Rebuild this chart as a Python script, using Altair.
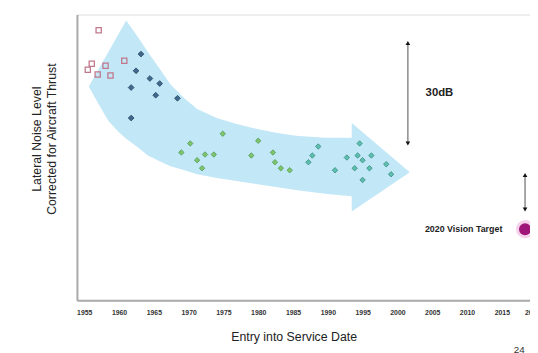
import altair as alt
import pandas as pd

# ---- data (years, relative noise level in dB) ----
sq_year = [1957.07, 1956.08, 1955.51, 1956.93, 1958.06, 1958.77, 1960.75]
sq_level = [80.6, 70.6, 68.8, 67.4, 70.0, 67.1, 71.5]

blue_year = [1963.15, 1962.44, 1964.43, 1965.84, 1961.74, 1965.27, 1968.39, 1961.74]
blue_level = [73.5, 68.5, 66.2, 64.7, 63.5, 61.2, 60.3, 54.4]

green_year = [1974.90, 1970.23, 1968.95, 1972.35, 1973.62, 1971.22, 1971.93,
              1979.99, 1979.00, 1982.11, 1982.40, 1983.25, 1984.52]
green_level = [49.7, 46.8, 44.1, 43.5, 43.5, 41.8, 39.4,
               47.6, 43.2, 44.1, 41.2, 39.4, 38.8]

teal_year = [1988.62, 1987.77, 1987.21, 1991.03, 1992.73, 1994.57, 1994.28,
             1994.99, 1996.26, 1993.86, 1995.98, 1994.99, 1998.39, 1999.09]
teal_level = [45.9, 43.2, 41.2, 38.8, 42.6, 46.8, 43.2,
              41.8, 43.2, 39.4, 39.4, 35.9, 40.6, 37.6]

# trend band (arrow) edges
band_year = [1955.65, 1957.07, 1958.48, 1959.90, 1961.03, 1962.73, 1964.14, 1965.84,
             1967.40, 1969.38, 1971.22, 1974.05, 1976.88, 1979.71, 1982.54, 1985.37,
             1989.61, 1993.43, 1993.44, 2001.78]
band_upper = [63.8, 69.0, 74.2, 79.4, 83.5, 78.5, 74.1, 69.1,
              64.4, 60.3, 57.1, 54.4, 52.6, 51.2, 50.0, 49.1,
              48.5, 48.5, 52.9, 38.2]
band_lower = [63.8, 58.5, 53.5, 50.3, 48.2, 45.6, 43.2, 41.5,
              40.0, 38.8, 37.6, 36.5, 35.6, 34.7, 33.8, 32.9,
              31.8, 31.0, 26.5, 38.2]

# annotation arrows
arrow_year = [2001.50, 2018.34]
arrow_top = [76.8, 37.35]
arrow_bottom = [46.8, 27.06]

target_year = [2018.34]
target_level = [21.2]

tick_years = [1955, 1960, 1965, 1970, 1975, 1980, 1985, 1990, 1995, 2000, 2005, 2010, 2015]

FONT = "Liberation Sans"
xscale = alt.Scale(domain=[1953.95, 2019.05], nice=False, zero=False)
yscale = alt.Scale(domain=[0, 85.3], nice=False, zero=True)

xaxis = alt.Axis(
    values=tick_years, format="d", ticks=False, grid=False,
    labelFontSize=7, labelFontWeight="bold", labelColor="#333", labelFont=FONT,
    labelPadding=9, domainColor="#aaaaaa", domainWidth=2,
    title="Entry into Service Date", titleFont=FONT, titleFontSize=12.5,
    titleFontWeight="normal", titleColor="#222", titleX=220, titleY=37,
    titleBaseline="middle", titleAnchor="middle",
)
yaxis = alt.Axis(
    labels=False, ticks=False, grid=False, domainColor="#aaaaaa", domainWidth=2,
    title=["Lateral Noise Level", "Corrected for Aircraft Thrust"],
    titleFont=FONT, titleFontSize=12.5, titleFontWeight="normal", titleColor="#222",
    titleAngle=270, titleX=-47, titleY=126, titleBaseline="top", titleAlign="center",
    titleLineHeight=15,
)


def X(f):
    return alt.X(f"{f}:Q", scale=xscale, axis=xaxis, title="Entry into Service Date")


def Y(f):
    return alt.Y(f"{f}:Q", scale=yscale, axis=yaxis)


band_df = pd.DataFrame({"year": band_year, "upper": band_upper, "lower": band_lower})
band = alt.Chart(band_df).mark_area(color="#bfe6f6", opacity=0.95).encode(
    x=X("year"), y=Y("upper"), y2="lower:Q"
)

sq = alt.Chart(pd.DataFrame({"year": sq_year, "level": sq_level})).mark_point(
    shape="square", size=28, filled=False, stroke="#c0788c", strokeWidth=1.3, opacity=1
).encode(x=X("year"), y=Y("level"))

blue = alt.Chart(pd.DataFrame({"year": blue_year, "level": blue_level})).mark_point(
    shape="diamond", size=34, filled=True, fill="#3f6a8e", stroke="#24445f",
    strokeWidth=0.8, opacity=1
).encode(x=X("year"), y=Y("level"))

green = alt.Chart(pd.DataFrame({"year": green_year, "level": green_level})).mark_point(
    shape="diamond", size=30, filled=True, fill="#7fc46a", stroke="#4f9a5a",
    strokeWidth=0.8, opacity=1
).encode(x=X("year"), y=Y("level"))

teal = alt.Chart(pd.DataFrame({"year": teal_year, "level": teal_level})).mark_point(
    shape="diamond", size=30, filled=True, fill="#5cc0ac", stroke="#3a8a86",
    strokeWidth=0.8, opacity=1
).encode(x=X("year"), y=Y("level"))

arr_df = pd.DataFrame({"year": arrow_year, "top": arrow_top, "bottom": arrow_bottom})
rules = alt.Chart(arr_df).mark_rule(color="#8a8a8a", strokeWidth=1.5).encode(
    x=X("year"), y=Y("top"), y2="bottom:Q"
)
heads_up = alt.Chart(arr_df).mark_point(
    shape="triangle-up", size=22, filled=True, color="#111", opacity=1
).encode(x=X("year"), y=Y("top"))
heads_dn = alt.Chart(arr_df).mark_point(
    shape="triangle-down", size=22, filled=True, color="#111", opacity=1
).encode(x=X("year"), y=Y("bottom"))

tgt_df = pd.DataFrame({"year": target_year, "level": target_level})
halo = alt.Chart(tgt_df).mark_point(
    shape="circle", size=340, filled=True, color="#e89ad2", opacity=0.45
).encode(x=X("year"), y=Y("level"))
dot = alt.Chart(tgt_df).mark_point(
    shape="circle", size=150, filled=True, color="#a0157a", opacity=1
).encode(x=X("year"), y=Y("level"))

lbl30 = alt.Chart(pd.DataFrame({"year": [2004.05], "level": [61.8], "t": ["30dB"]})).mark_text(
    align="left", baseline="middle", font=FONT, fontSize=11.5, fontWeight="bold", color="#222"
).encode(x=X("year"), y=Y("level"), text="t:N")

lbltgt = alt.Chart(pd.DataFrame({"year": [2015.08], "level": [21.2], "t": ["2020 Vision Target"]})).mark_text(
    align="right", baseline="middle", font=FONT, fontSize=9, fontWeight="bold", color="#222"
).encode(x=X("year"), y=Y("level"), text="t:N")

lbl2020 = alt.Chart(pd.DataFrame({"year": [2020.0], "level": [-3.8], "t": ["2020"]})).mark_text(
    align="center", baseline="middle", font=FONT, fontSize=7, fontWeight="bold", color="#333", dx=-4
).encode(x=X("year"), y=Y("level"), text="t:N")

lblpage = alt.Chart(pd.DataFrame({"year": [2017.49], "level": [-14.9], "t": ["24"]})).mark_text(
    align="center", baseline="middle", font=FONT, fontSize=10, color="#333"
).encode(x=X("year"), y=Y("level"), text="t:N")

chart = alt.layer(
    band, sq, blue, green, teal, rules, heads_up, heads_dn, halo, dot,
    lbl30, lbltgt, lbl2020, lblpage
).properties(
    width=460, height=290,
    autosize=alt.AutoSizeParams(type="none"),
    padding={"left": 70, "top": 4, "right": 0, "bottom": 51},
).configure_view(stroke=None).configure(background="white")

chart.save("out.html", embed_options={"renderer": "svg", "actions": False})
